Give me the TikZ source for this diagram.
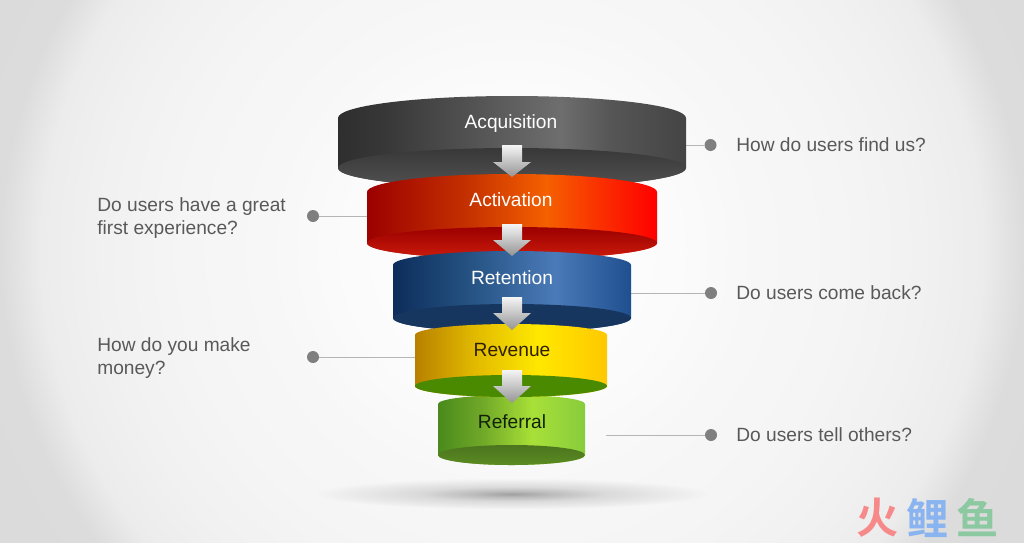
\documentclass[tikz,border=0pt]{standalone}
\usepackage{fontspec}
\setmainfont{Liberation Sans}
\newfontfamily\cjk{Noto Sans CJK SC}[BoldFont={Noto Sans CJK SC Bold}]
\usepackage{tikz}
\usetikzlibrary{positioning}
\definecolor{labeltext}{HTML}{595959}
\definecolor{leader}{HTML}{B5B5B5}
\definecolor{dotgray}{HTML}{7F7F7F}
\definecolor{p0}{HTML}{FBFBFB}\definecolor{p1}{HTML}{F7F7F7}\definecolor{p2}{HTML}{F5F5F5}\definecolor{p3}{HTML}{F1F1F1}\definecolor{p6}{HTML}{ECECEC}\definecolor{p4}{HTML}{DCDCDC}\definecolor{p5}{HTML}{D8D8D8}
\definecolor{s0}{HTML}{A0A0A0}\definecolor{s1}{HTML}{BCBCBC}\definecolor{s2}{HTML}{DADADA}\definecolor{s3}{HTML}{F4F4F4}
\pgfdeclareradialshading{pageshade}{\pgfpoint{0bp}{0bp}}{color(0bp)=(white); color(8bp)=(p0); color(12bp)=(p1); color(16bp)=(p2); color(20bp)=(p3); color(23bp)=(p6); color(25bp)=(p4); color(36bp)=(p5)}
\pgfdeclareradialshading{floorshade}{\pgfpoint{0bp}{0bp}}{color(0bp)=(s0); color(5bp)=(s1); color(12bp)=(s2); color(25bp)=(s3); color(50bp)=(s3)}
\definecolor{g0}{HTML}{2E2E2E}\definecolor{g1}{HTML}{383838}\definecolor{g2}{HTML}{6E6E6E}\definecolor{g3}{HTML}{565656}\definecolor{g4}{HTML}{444444}
\definecolor{r0}{HTML}{9C0000}\definecolor{r1}{HTML}{C43000}\definecolor{r2}{HTML}{F56000}\definecolor{r3}{HTML}{FA3000}\definecolor{r4}{HTML}{FF0000}
\definecolor{b0}{HTML}{0D2D5C}\definecolor{b1}{HTML}{23507F}\definecolor{b2}{HTML}{4A7AB8}\definecolor{b3}{HTML}{1F4F8F}
\definecolor{y0}{HTML}{B88000}\definecolor{y1}{HTML}{E0B800}\definecolor{y2}{HTML}{FFE800}\definecolor{y3}{HTML}{FFC800}
\definecolor{n0}{HTML}{4A8A1C}\definecolor{n1}{HTML}{70A828}\definecolor{n2}{HTML}{A8E038}\definecolor{n3}{HTML}{88CC3C}
\definecolor{grayrim}{HTML}{525252}\definecolor{redrim}{HTML}{CC1C0C}\definecolor{bluerim}{HTML}{17365F}
\definecolor{yellowrim}{HTML}{4A8A00}\definecolor{greenrim}{HTML}{4C751E}\definecolor{greenedge}{HTML}{5A8A22}
\pgfdeclarehorizontalshading{grayband}{100bp}{color(0bp)=(g0); color(25bp)=(g0); color(32bp)=(g1); color(57bp)=(g2); color(64bp)=(g3); color(75bp)=(g4); color(100bp)=(g4)}
\pgfdeclarehorizontalshading{redband}{100bp}{color(0bp)=(r0); color(25bp)=(r0); color(42bp)=(r1); color(56bp)=(r2); color(65bp)=(r3); color(75bp)=(r4); color(100bp)=(r4)}
\pgfdeclarehorizontalshading{blueband}{100bp}{color(0bp)=(b0); color(25bp)=(b0); color(40bp)=(b1); color(59bp)=(b2); color(75bp)=(b3); color(100bp)=(b3)}
\pgfdeclarehorizontalshading{yellowband}{100bp}{color(0bp)=(y0); color(25bp)=(y0); color(40bp)=(y1); color(57bp)=(y2); color(75bp)=(y3); color(100bp)=(y3)}
\pgfdeclarehorizontalshading{greenband}{100bp}{color(0bp)=(n0); color(25bp)=(n0); color(40bp)=(n1); color(57bp)=(n2); color(75bp)=(n3); color(100bp)=(n3)}
\begin{document}
\begin{tikzpicture}[x=0.02cm,y=-0.02cm,
bandtext/.style ={anchor=base, inner sep=0pt, font=\fontsize{10.9}{13}\selectfont},
asktext/.style ={labeltext, inner sep=0pt, align=left, font=\fontsize{10.9}{13}\selectfont},
dot/.style ={circle, fill=dotgray, inner sep=0pt, minimum size=0.24cm},
lead/.style ={leader, line width=0.55pt},
downarrow/.style ={top color=white!96!black, bottom color=white!58!black, draw=none}
]
\useasboundingbox (0,0) rectangle (1024,542);
%page background
\begin{scope}
\clip (0,0) rectangle (1024,542);
\shade[shading=pageshade] (0,-250) rectangle (1024,750);
\end{scope}
%shadow on the floor
\shade[shading=floorshade] (512,494) ellipse [x radius=195,y radius=15];
%leader lines
\node[dot] (askfind) at (710.5,145) {};
\node[dot] (askfirst) at (313,216) {};
\node[dot] (askback) at (711,293) {};
\node[dot] (askmoney) at (313,357) {};
\node[dot] (asktell) at (711,435) {};
\coordinate (findend) at (686,145);
\coordinate (firstend) at (367,216);
\coordinate (backend) at (631,293);
\coordinate (moneyend) at (415,357);
\coordinate (tellend) at (606,435);
\draw[lead] (askfind) -- (findend);
\draw[lead] (askfirst) -- (firstend);
\draw[lead] (askback) -- (backend);
\draw[lead] (askmoney) -- (moneyend);
\draw[lead] (asktell) -- (tellend);
%referral band
\shade[shading=greenband] (438,404) arc[start angle=180,end angle=360,x radius=73.5,y radius=9]
  -- (585,455) arc[start angle=0,end angle=180,x radius=73.5,y radius=10] -- cycle;
\shade[top color=greenrim, bottom color=greenedge] (511.5,455) ellipse [x radius=73.5,y radius=10];
%acquisition band
\shade[shading=grayband] (338,118) arc[start angle=180,end angle=360,x radius=174,y radius=22]
  -- (686,168) arc[start angle=0,end angle=180,x radius=174,y radius=20] -- cycle;
\shade[top color=g1, bottom color=grayrim] (512,168) ellipse [x radius=174,y radius=20];
%activation band
\shade[shading=redband] (367,192) arc[start angle=180,end angle=360,x radius=145,y radius=18]
  -- (657,243) arc[start angle=0,end angle=180,x radius=145,y radius=16] -- cycle;
\shade[top color=r0, bottom color=redrim] (512,243) ellipse [x radius=145,y radius=16];
%retention band
\shade[shading=blueband] (393,265) arc[start angle=180,end angle=360,x radius=119,y radius=14]
  -- (631,318) arc[start angle=0,end angle=180,x radius=119,y radius=14] -- cycle;
\fill[bluerim] (512,318) ellipse [x radius=119,y radius=14];
%revenue band
\shade[shading=yellowband] (415,335) arc[start angle=180,end angle=360,x radius=96,y radius=11]
  -- (607,386) arc[start angle=0,end angle=180,x radius=96,y radius=11] -- cycle;
\fill[yellowrim] (511,386) ellipse [x radius=96,y radius=11];
%block arrows
\shade[downarrow] (502,145) -- (522,145) -- (522,162) -- (531,162) -- (512,177) -- (493,162) -- (502,162) -- cycle;
\shade[downarrow] (502,224) -- (522,224) -- (522,240) -- (531,240) -- (512,256) -- (493,240) -- (502,240) -- cycle;
\shade[downarrow] (502,297) -- (522,297) -- (522,313) -- (531,313) -- (512,330) -- (493,313) -- (502,313) -- cycle;
\shade[downarrow] (502,370) -- (522,370) -- (522,386) -- (531,386) -- (512,403) -- (493,386) -- (502,386) -- cycle;
%band names
\node[bandtext, white] (acquisition) at (511,128) {Acquisition};
\node[bandtext, white] (activation) at (511,206) {Activation};
\node[bandtext, white] (retention) at (512,284) {Retention};
\node[bandtext, black!75!y0] (revenue) at (512,356) {Revenue};
\node[bandtext, black!75!n0] (referral) at (512,428) {Referral};
%questions
\node[asktext, anchor=base west] (findtext) at (736,151) {How do users find us?};
\node[asktext, anchor=base west] (backtext) at (736,299) {Do users come back?};
\node[asktext, anchor=base west] (telltext) at (736,441) {Do users tell others?};
\node[asktext, anchor=west] (firsttext) at (97,218) {Do users have a great\\first experience?};
\node[asktext, anchor=west] (moneytext) at (97,358) {How do you make\\money?};
%watermark
\node[inner sep=0pt, font=\cjk\bfseries\fontsize{24}{24}\selectfont, text={rgb,255:red,246;green,138;blue,138}] (wmfire) at (878,518) {火};
\node[inner sep=0pt, font=\cjk\bfseries\fontsize{24}{24}\selectfont, text={rgb,255:red,138;green,180;blue,240}] (wmcarp) at (928,518) {鲤};
\node[inner sep=0pt, font=\cjk\bfseries\fontsize{24}{24}\selectfont, text={rgb,255:red,140;green,200;blue,160}] (wmfish) at (978,518) {鱼};
\end{tikzpicture}
\end{document}
